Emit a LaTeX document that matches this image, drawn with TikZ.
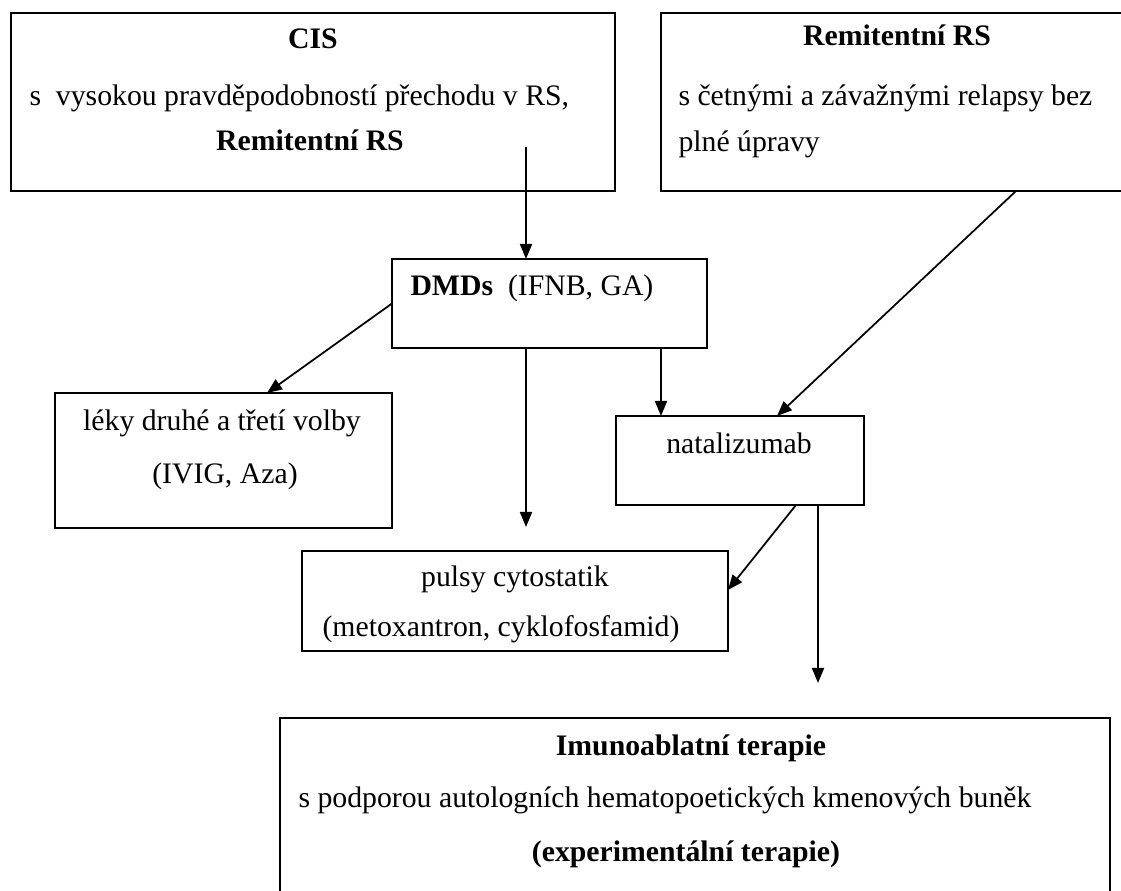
\documentclass[tikz,border=0pt]{standalone}
\usepackage{fontspec}
\setmainfont{Liberation Serif}
\usetikzlibrary{arrows.meta,fit}

\begin{document}
\begin{tikzpicture}[x=0.4pt, y=-0.4pt,
  box/.style={draw, line width=0.8pt, inner sep=0pt, outer sep=0pt},
  txt/.style={font=\fontsize{11.9}{14}\selectfont, inner sep=0pt, anchor=base},
  arr/.style={line width=0.7pt, -{Triangle[length=6pt, width=4.8pt]}}]
  \useasboundingbox (0,0) rectangle (1121,891);
  % boxes
  \node[box, fit={(11,13) (615,191)}] (cis) {};
  \node[box, fit={(661,13) (1133,191)}] (rem) {};
  \node[box, fit={(392,259) (707,348)}] (dmd) {};
  \node[box, fit={(55,393) (392,528)}] (leky) {};
  \node[box, fit={(616,416) (864,505)}] (nat) {};
  \node[box, fit={(302,551) (728,651)}] (pulsy) {};
  \node[box, fit={(280,718) (1110,905)}] (imuno) {};
  % texts
  \node[txt] (cist1) at (313,49) {\textbf{CIS}};
  \node[txt, anchor=base west] (cist2) at (29,106) {s~ vysokou pravděpodobností přechodu v RS,};
  \node[txt] (cist3) at (310,151) {\textbf{Remitentní RS}};
  \node[txt] (remt1) at (897,46) {\textbf{Remitentní RS}};
  \node[txt, anchor=base west] (remt2) at (678,106) {s četnými a závažnými relapsy bez};
  \node[txt, anchor=base west] (remt3) at (678,152) {plné úpravy};
  \node[txt, anchor=base west] (dmdt) at (410,296) {\textbf{DMDs}~ (IFNB, GA)};
  \node[txt] (lekyt1) at (222,431) {léky druhé a třetí volby};
  \node[txt] (lekyt2) at (225,484) {(IVIG, Aza)};
  \node[txt] (natt) at (739,454) {natalizumab};
  \node[txt] (pulsyt1) at (515,587) {pulsy cytostatik};
  \node[txt] (pulsyt2) at (501,637) {(metoxantron, cyklofosfamid)};
  \node[txt] (imunot1) at (691,756) {\textbf{Imunoablatní terapie}};
  \node[txt] (imunot2) at (665,808) {s podporou autologních hematopoetických kmenových buněk};
  \node[txt] (imunot3) at (686,862) {\textbf{(experimentální terapie)}};
  % arrows
  \coordinate (dmdend) at (526,527);
  \coordinate (natend) at (818,683);
  \draw[arr] ([shift={(85.2pt,17.6pt)}]cis.south) -- ([xshift=-9.4pt]dmd.north);
  \draw[arr] (dmd.west) -- ([xshift=17.4pt]leky.north);
  \draw[arr] ([xshift=-9.4pt]dmd.south) -- (dmdend);
  \draw[arr] ([xshift=44.6pt]dmd.south) -- ([xshift=44.6pt]dmd.south |- nat.north);
  \draw[arr] ([xshift=47.6pt]rem.south) -- ([xshift=14.8pt]nat.north);
  \draw[arr] ([xshift=22.4pt]nat.south) -- ([yshift=4.4pt]pulsy.east);
  \draw[arr] ([xshift=31.2pt]nat.south) -- (natend);
\end{tikzpicture}
\end{document}
